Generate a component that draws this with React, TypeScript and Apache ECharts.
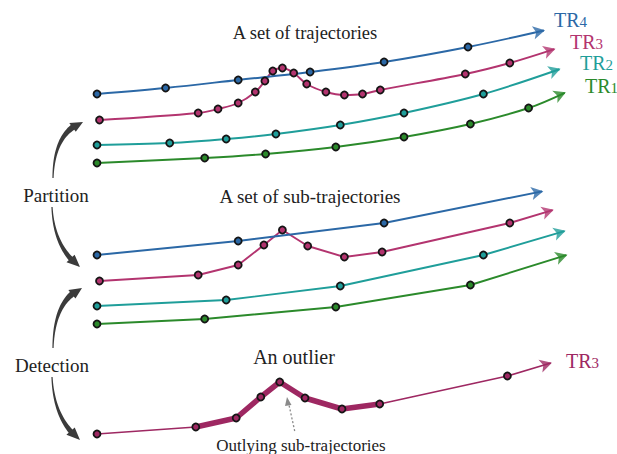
import React, { useEffect, useRef } from "react";
import * as echarts from "echarts";

// Panel 1: a set of trajectories (last point = arrow tip)
const tr4Top = [[97, 94], [165.6, 88], [238.2, 80], [310.1, 72], [384.1, 62], [468, 47], [550.9, 29]];
const tr3Top = [[99.5, 120], [198.2, 113], [218, 109], [238.2, 103], [255.3, 92], [264.9, 81], [272.8, 71], [282.4, 68], [293.7, 73], [306.7, 84], [325.9, 92], [344.4, 95], [362.5, 94], [380.3, 90], [465.3, 74], [509.8, 63], [561.2, 47]];
const tr2Top = [[97, 145], [169.7, 143], [226.2, 139], [275.9, 134], [340.3, 125], [404, 113], [483.4, 94], [566.3, 67]];
const tr1Top = [[97, 163], [204.7, 158], [265.6, 154], [335.8, 147], [404, 137], [470.4, 124], [528.6, 108], [571.4, 90]];

// Panel 2: a set of sub-trajectories
const tr4Mid = [[97, 255], [238.2, 241], [384.1, 223], [549.2, 190]];
const tr3Mid = [[99.5, 281], [198.2, 275], [238.2, 265], [263.9, 245], [282.4, 230], [307.7, 246], [344.4, 257], [382.1, 252], [509.8, 223], [559.5, 208]];
const tr2Mid = [[97, 306], [226.2, 300], [340.3, 286], [483.4, 255], [571.4, 229]];
const tr1Mid = [[97, 324], [204.7, 319], [335.8, 307], [470.4, 285], [573.2, 253]];

// Panel 3: an outlier
const tr3Out = [[97, 434], [195.8, 427], [236.2, 418], [260.8, 397], [279.7, 382], [305, 398], [342, 409], [379.7, 404], [507.4, 376], [557.7, 361]];
const outlyingRange = [1, 7];

const labels = ["TR4", "TR3", "TR2", "TR1"];

const C_BLUE = "#2b68a6";
const C_MAG = "#b3346f";
const C_MAG2 = "#9e2862";
const C_TEAL = "#1f9e9a";
const C_GREEN = "#2b8a2b";

const SERIF = "'Liberation Serif', 'DejaVu Serif', serif";

function buildTrajectory(pts: number[][], color: string, smooth: boolean | number, lw: number) {
  const n = pts.length;
  const tip = pts[n - 1];
  const prev = pts[n - 2];
  const dx = tip[0] - prev[0];
  const dy = tip[1] - prev[1];
  const len = Math.hypot(dx, dy);
  const ux = dx / len, uy = dy / len;
  const ah = 12;
  const lineEnd = [tip[0] - ux * ah * 0.6, tip[1] - uy * ah * 0.6];
  const data: any[] = pts.slice(0, n - 1).map((p) => ({ value: p }));
  data.push({ value: lineEnd, symbol: "none" });
  const ang = (Math.atan2(-dy, dx) * 180) / Math.PI - 90;
  const line = {
    type: "line",
    data,
    smooth,
    symbol: "circle",
    symbolSize: 7,
    showSymbol: true,
    lineStyle: { color, width: lw },
    itemStyle: { color, borderColor: "#151515", borderWidth: 1.8 },
    z: 3,
    silent: true,
  };
  const head = {
    type: "scatter",
    data: [{ value: [tip[0] - (ux * ah) / 2, tip[1] - (uy * ah) / 2], symbolRotate: ang }],
    symbol: "arrow",
    symbolSize: [10, ah],
    itemStyle: { color },
    z: 4,
    silent: true,
  };
  return [line, head];
}

function swoosh(p0: number[], c: number[], p2: number[], w0: number, w1: number, headW: number, tHead: number) {
  const B = (t: number) => [
    (1 - t) * (1 - t) * p0[0] + 2 * (1 - t) * t * c[0] + t * t * p2[0],
    (1 - t) * (1 - t) * p0[1] + 2 * (1 - t) * t * c[1] + t * t * p2[1],
  ];
  const D = (t: number) => {
    const x = 2 * (1 - t) * (c[0] - p0[0]) + 2 * t * (p2[0] - c[0]);
    const y = 2 * (1 - t) * (c[1] - p0[1]) + 2 * t * (p2[1] - c[1]);
    const l = Math.hypot(x, y);
    return [x / l, y / l];
  };
  const N = 24;
  const left: number[][] = [];
  const right: number[][] = [];
  for (let i = 0; i <= N; i++) {
    const t = (tHead * i) / N;
    const p = B(t);
    const d = D(t);
    const nx = -d[1], ny = d[0];
    const w = w0 + (w1 - w0) * Math.pow(i / N, 1.3);
    left.push([p[0] + (nx * w) / 2, p[1] + (ny * w) / 2]);
    right.push([p[0] - (nx * w) / 2, p[1] - (ny * w) / 2]);
  }
  const pb = B(tHead);
  const db = D(tHead);
  const nx = -db[1], ny = db[0];
  const points = [
    ...left,
    [pb[0] + (nx * headW) / 2, pb[1] + (ny * headW) / 2],
    p2,
    [pb[0] - (nx * headW) / 2, pb[1] - (ny * headW) / 2],
    ...right.reverse(),
  ];
  return {
    type: "polygon",
    shape: { points },
    style: { fill: "#3b3b3b" },
    z: 10,
  };
}

function trLabel(text: string, x: number, y: number, color: string) {
  const main = text.slice(0, 2);
  const sub = text.slice(2);
  return {
    type: "text",
    x,
    y,
    style: {
      text: `{a|${main}}{b|${sub}}`,
      rich: {
        a: { fontSize: 20, fontFamily: SERIF, fill: color, color },
        b: { fontSize: 15, fontFamily: SERIF, fill: color, color, padding: [4, 0, 0, 0] },
      },
      fill: color,
      verticalAlign: "middle",
      textVerticalAlign: "middle",
      align: "left",
    },
    z: 10,
  };
}

function title(text: string, x: number, y: number, size: number) {
  return {
    type: "text",
    x,
    y,
    style: {
      text,
      font: `${size}px ${SERIF}`,
      fill: "#222",
      align: "center",
      textAlign: "center",
      verticalAlign: "middle",
      textVerticalAlign: "middle",
    },
    z: 10,
  };
}

export default function App() {
  const ref = useRef<HTMLDivElement>(null);
  useEffect(() => {
    document.body.style.margin = "0";
    if (!ref.current) return;
    const chart = echarts.init(ref.current, undefined, { renderer: "svg" });

    const series: any[] = [];
    series.push({
      type: "line",
      data: tr3Out.slice(outlyingRange[0], outlyingRange[1] + 1),
      smooth: false,
      showSymbol: false,
      symbol: "none",
      lineStyle: { color: C_MAG2, width: 5.5, join: "round", cap: "round" },
      z: 2,
      silent: true,
    });
    series.push(...buildTrajectory(tr1Top, C_GREEN, 0.35, 1.9));
    series.push(...buildTrajectory(tr2Top, C_TEAL, 0.35, 1.9));
    series.push(...buildTrajectory(tr3Top, C_MAG, 0.35, 1.9));
    series.push(...buildTrajectory(tr4Top, C_BLUE, 0.35, 1.9));
    series.push(...buildTrajectory(tr1Mid, C_GREEN, false, 1.9));
    series.push(...buildTrajectory(tr2Mid, C_TEAL, false, 1.9));
    series.push(...buildTrajectory(tr3Mid, C_MAG, false, 1.9));
    series.push(...buildTrajectory(tr4Mid, C_BLUE, false, 1.9));
    series.push(...buildTrajectory(tr3Out, C_MAG2, false, 1.7));

    const graphic: any[] = [
      title("A set of trajectories", 305, 33, 18.5),
      title("A set of sub-trajectories", 310, 196, 19),
      title("An outlier", 294, 357, 20),
      title("Outlying sub-trajectories", 301, 445, 17),
      title("Partition", 56, 195, 19),
      title("Detection", 52, 365, 19),
      trLabel(labels[0], 554, 20, C_BLUE),
      trLabel(labels[1], 570, 42, C_MAG),
      trLabel(labels[2], 580, 63, C_TEAL),
      trLabel(labels[3], 585, 86, C_GREEN),
      trLabel(labels[1], 566, 361, C_MAG2),
      swoosh([53, 178], [54, 132], [83, 122], 1.2, 6, 11, 0.8),
      swoosh([52, 207], [54, 248], [80, 267], 1.2, 5, 11, 0.8),
      swoosh([53, 348], [54, 300], [82, 288], 1.2, 6, 11, 0.8),
      swoosh([52, 377], [54, 420], [80, 440], 1.2, 5, 11, 0.8),
      {
        type: "line",
        shape: { x1: 294.7, y1: 431, x2: 289, y2: 405 },
        style: { stroke: "#8a8a8a", lineWidth: 1.3, lineDash: [2, 2] },
        z: 10,
      },
      {
        type: "polygon",
        shape: { points: [[287, 397], [285, 406], [291.5, 405]] },
        style: { fill: "#8a8a8a" },
        z: 10,
      },
    ];

    chart.setOption({
      animation: false,
      backgroundColor: "#ffffff",
      grid: { left: 0, top: 0, right: 0, bottom: 0 },
      xAxis: { type: "value", min: 0, max: 617, show: false },
      yAxis: { type: "value", min: 0, max: 454, inverse: true, show: false },
      series,
      graphic,
    });
    return () => chart.dispose();
  }, []);
  return <div ref={ref} style={{ width: 617, height: 454 }} />;
}
